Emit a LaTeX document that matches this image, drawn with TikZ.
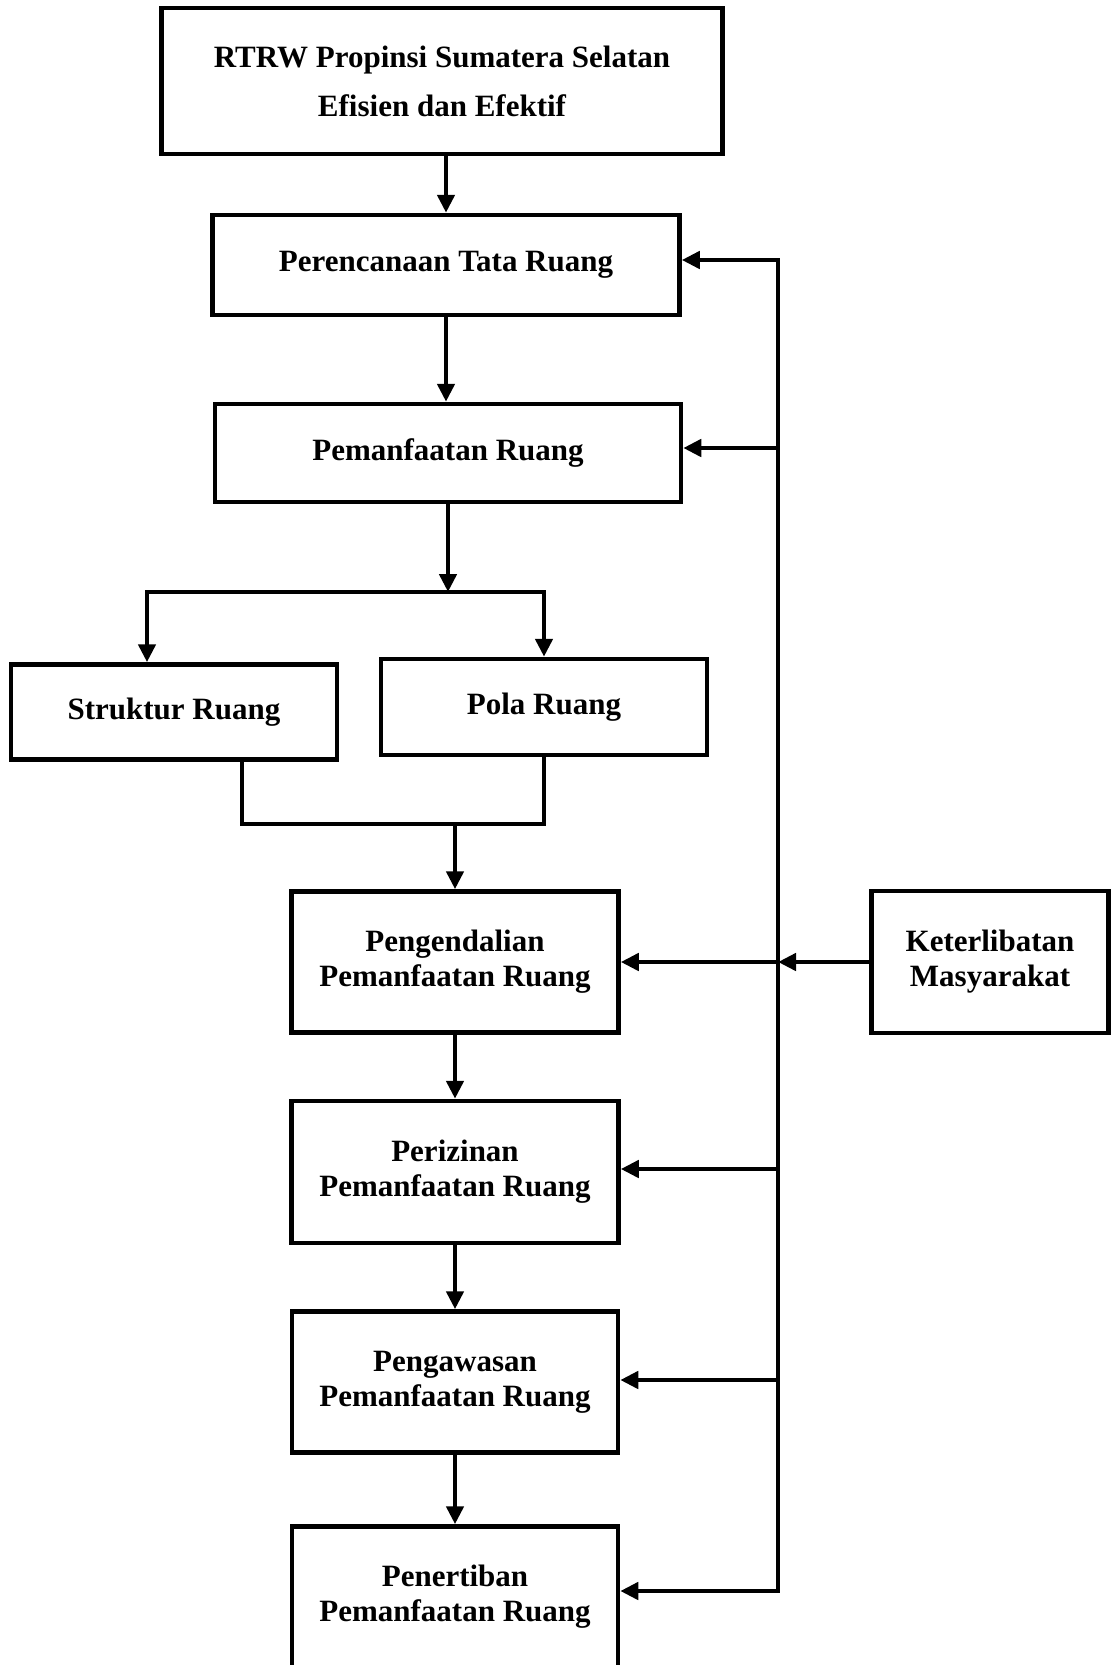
\documentclass[tikz,border=0pt]{standalone}
\usepackage{fontspec}
\setmainfont{Liberation Serif}
\usetikzlibrary{arrows.meta}
\tikzset{
  arr/.style={-{Triangle[length=18pt,width=17pt]}},
  both/.style={{Triangle[length=18pt,width=17pt]}-{Triangle[length=18pt,width=17pt]}}
}
\begin{document}
\begin{tikzpicture}[x=1pt,y=-1pt,line width=4.5pt,
  every node/.style={draw, rectangle, line width=4.5pt, align=center, inner sep=0pt,
    font=\fontsize{31}{35}\selectfont\bfseries}]
  \useasboundingbox (0,0) rectangle (1111,1665);

  \node[minimum width=561pt, minimum height=146pt] (rtrw) at (442,81)
    {RTRW Propinsi Sumatera Selatan\\[14pt]Efisien dan Efektif};
  \node[minimum width=467pt, minimum height=100pt] (plan) at (446,265) {Perencanaan Tata Ruang};
  \node[minimum width=466pt, minimum height=98pt] (use) at (448,453) {Pemanfaatan Ruang};

  \node[minimum width=326pt, minimum height=95pt] (struk) at (174,712) {Struktur Ruang};
  \node[minimum width=326pt, minimum height=96pt] (pola) at (544,707) {Pola Ruang};

  \node[minimum width=327pt, minimum height=141pt] (kendali) at (455,962) {Pengendalian\\Pemanfaatan Ruang};
  \node[minimum width=237pt, minimum height=142pt] (libat) at (990,962) {Keterlibatan\\Masyarakat};
  \node[minimum width=327pt, minimum height=142pt] (izin) at (455,1172) {Perizinan\\Pemanfaatan Ruang};
  \node[minimum width=326pt, minimum height=141pt] (awas) at (455,1382) {Pengawasan\\Pemanfaatan Ruang};
  \node[minimum width=326pt, minimum height=141pt] (tertib) at (455,1597) {Penertiban\\Pemanfaatan Ruang};

  % main flow
  \draw[arr] (plan.north |- rtrw.south) -- (plan.north);
  \draw[arr] (plan.south) -- (plan.south |- use.north);
  \coordinate (split) at (448,592);
  \draw[arr] (use.south) -- (split);
  \draw[arr] (split) -| ([xshift=-27pt]struk.north);
  \draw[arr] (split) -| (pola.north);
  \coordinate (merge) at (455,824);
  \draw ([xshift=68pt]struk.south) |- (merge) -| (pola.south);
  \draw[arr] (merge) -- (kendali.north);
  \draw[arr] (kendali) -- (izin);
  \draw[arr] (izin) -- (awas);
  \draw[arr] (awas) -- (tertib);

  % feedback rail
  \coordinate (rtop) at (778,260);
  \coordinate (rbot) at (778,1591);
  \coordinate (ruse) at (778,448);
  \coordinate (rkend) at (778,962);
  \coordinate (rizin) at (778,1169);
  \coordinate (rawas) at (778,1380);
  \draw[both] (rtop -| plan.east) -- (rtop) -- (rbot) -- (rbot -| tertib.east);
  \draw[arr] (ruse) -- (ruse -| use.east);
  \draw[arr] (libat.west) -- (rkend);
  \draw[arr] (rkend) -- (rkend -| kendali.east);
  \draw[arr] (rizin) -- (rizin -| izin.east);
  \draw[arr] (rawas) -- (rawas -| awas.east);
\end{tikzpicture}
\end{document}
